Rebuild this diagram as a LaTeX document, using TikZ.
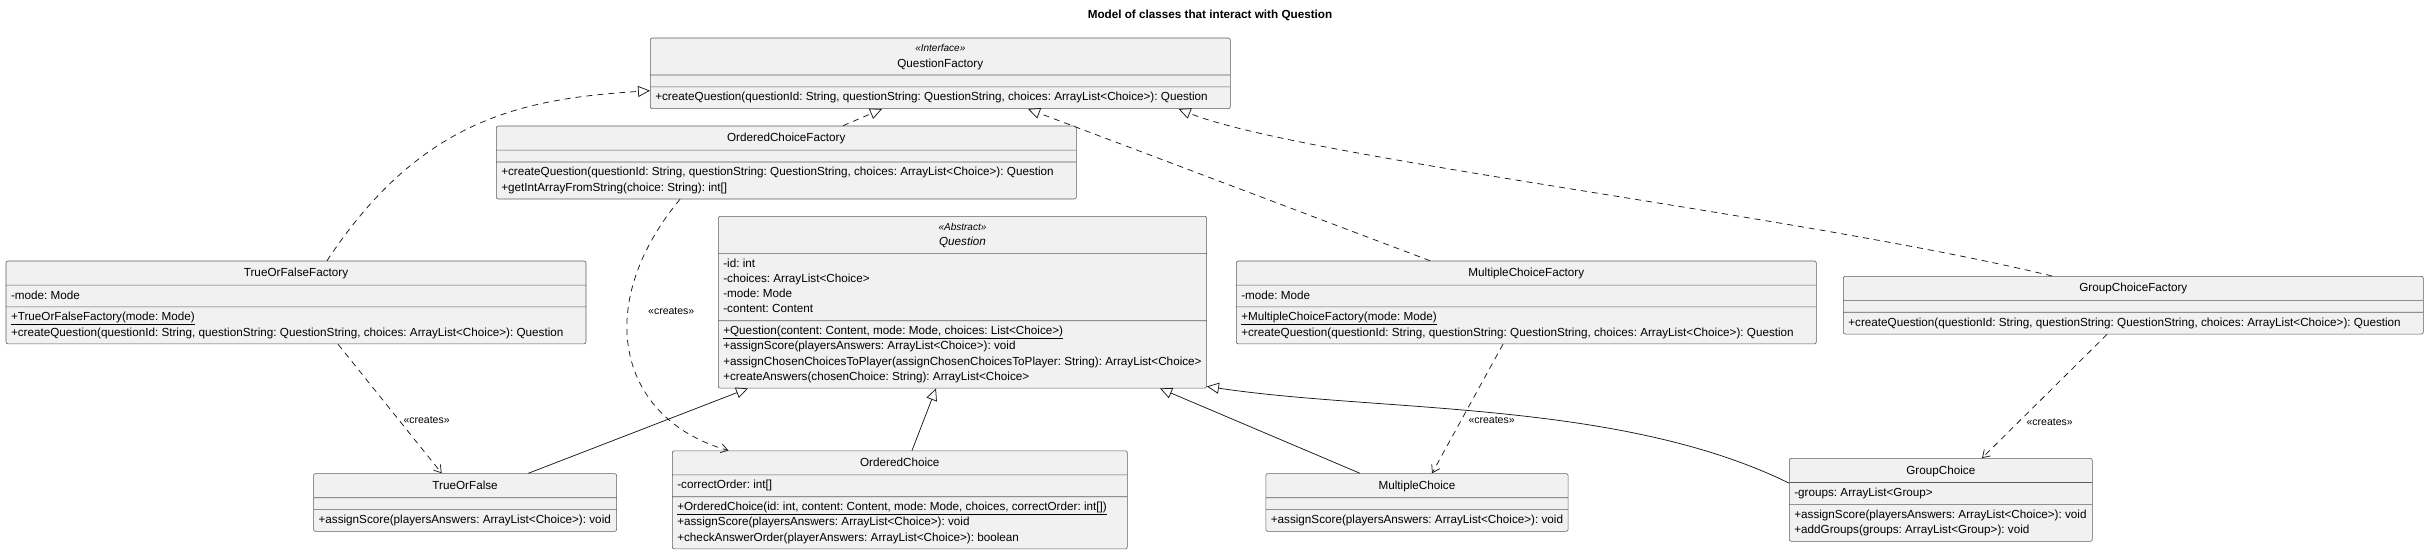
\documentclass[tikz,border=0pt]{standalone}
\usepackage{fontspec}
\setmainfont{Liberation Sans}
\usepackage{tikz}
\usetikzlibrary{arrows.meta}
\usetikzlibrary{shapes.multipart}
\usetikzlibrary{calc}
\definecolor{boxfill}{HTML}{F1F1F1}
\definecolor{umlline}{HTML}{181818}
\newcommand{\cname}[1]{\rule[-5.2pt]{0pt}{17.5pt}#1}
\frenchspacing
\tikzset{
  umlclass/.style={rectangle split, rectangle split parts=3,
    rectangle split ignore empty parts=false,
    rectangle split empty part height=0pt, rectangle split empty part depth=0pt,
    rectangle split part align={center,left,left},
    draw=umlline!70, line width=0.6pt, fill=boxfill, rounded corners=2pt,
    inner xsep=5pt, inner ysep=3pt, anchor=north west, align=left,
    font=\fontsize{11.7}{15.2}\selectfont},
  realizes/.style={draw=umlline, line width=0.75pt, dash pattern=on 6pt off 5pt,
    -{Triangle[open, length=12pt, width=11pt]}},
  inherits/.style={draw=umlline, line width=0.75pt,
    -{Triangle[open, length=12pt, width=11pt]}},
  createsarrow/.style={draw=umlline, line width=0.75pt, dash pattern=on 6pt off 5pt,
    -{Straight Barb[length=7pt, width=9pt]}},
  createslabel/.style={font=\fontsize{10.5}{12}\selectfont, anchor=west, inner sep=2pt}
}

\begin{document}
\begin{tikzpicture}[x=1pt, y=-1pt]
    \useasboundingbox (0,0) rectangle (2429,552);

    \node[font=\fontsize{11.7}{14}\selectfont\bfseries] (title) at (1210,15.7)
      {Model of classes that interact with Question};

    \node[umlclass, minimum width=580pt] (qf) at (650,37.7)
      {\begin{tabular}{@{}c@{}}{\fontsize{10}{15.2}\selectfont\itshape «Interface»}\\ QuestionFactory\end{tabular}
       \nodepart{two}
       \nodepart{three}\strut +createQuestion(questionId: String, questionString: QuestionString, choices: ArrayList<Choice>): Question};

    \node[umlclass, minimum width=580pt] (ocf) at (496,125.7)
      {\cname{OrderedChoiceFactory}
       \nodepart{two}
       \nodepart{three}\strut +createQuestion(questionId: String, questionString: QuestionString, choices: ArrayList<Choice>): Question\\
       \strut +getIntArrayFromString(choice: String): int[]};

    \node[umlclass, minimum width=488pt] (q) at (718,216)
      {\begin{tabular}{@{}c@{}}{\fontsize{10}{15.2}\selectfont\itshape «Abstract»}\\ \itshape Question\end{tabular}
       \nodepart{two}\strut -id: int\\ \strut -choices: ArrayList<Choice>\\ \strut -mode: Mode\\ \strut -content: Content
       \nodepart{three}\strut \underline{+Question(content: Content, mode: Mode, choices: List<Choice>)}\\
       \strut +assignScore(playersAnswers: ArrayList<Choice>): void\\
       \strut +assignChosenChoicesToPlayer(assignChosenChoicesToPlayer: String): ArrayList<Choice>\\
       \strut +createAnswers(chosenChoice: String): ArrayList<Choice>};

    \node[umlclass, minimum width=580pt] (toff) at (5.7,260.7)
      {\cname{TrueOrFalseFactory}
       \nodepart{two}\strut -mode: Mode
       \nodepart{three}\strut \underline{+TrueOrFalseFactory(mode: Mode)}\\
       \strut +createQuestion(questionId: String, questionString: QuestionString, choices: ArrayList<Choice>): Question};

    \node[umlclass, minimum width=580pt] (mcf) at (1236,260.7)
      {\cname{MultipleChoiceFactory}
       \nodepart{two}\strut -mode: Mode
       \nodepart{three}\strut \underline{+MultipleChoiceFactory(mode: Mode)}\\
       \strut +createQuestion(questionId: String, questionString: QuestionString, choices: ArrayList<Choice>): Question};

    \node[umlclass, minimum width=580pt] (gcf) at (1843,276)
      {\cname{GroupChoiceFactory}
       \nodepart{two}
       \nodepart{three}\strut +createQuestion(questionId: String, questionString: QuestionString, choices: ArrayList<Choice>): Question};

    \node[umlclass, minimum width=303pt] (tof) at (313.3,473.3)
      {\cname{TrueOrFalse}
       \nodepart{two}
       \nodepart{three}\strut +assignScore(playersAnswers: ArrayList<Choice>): void};

    \node[umlclass, minimum width=455pt] (oc) at (672,450.5)
      {\cname{OrderedChoice}
       \nodepart{two}\strut -correctOrder: int[]
       \nodepart{three}\strut \underline{+OrderedChoice(id: int, content: Content, mode: Mode, choices, correctOrder: int[])}\\
       \strut +assignScore(playersAnswers: ArrayList<Choice>): void\\
       \strut +checkAnswerOrder(playerAnswers: ArrayList<Choice>): boolean};

    \node[umlclass, minimum width=302pt] (mc) at (1265.5,473.3)
      {\cname{MultipleChoice}
       \nodepart{two}
       \nodepart{three}\strut +assignScore(playersAnswers: ArrayList<Choice>): void};

    \node[umlclass, minimum width=303pt] (gc) at (1789,458.1)
      {\cname{GroupChoice}
       \nodepart{two}\strut -groups: ArrayList<Group>
       \nodepart{three}\strut +assignScore(playersAnswers: ArrayList<Choice>): void\\
       \strut +addGroups(groups: ArrayList<Group>): void};

    \draw[realizes] ($(toff.north west)+(321.3,0)$) .. controls +(93,-140.7) and +(-130,8.2) .. ($(qf.north west)+(0,53)$);
    \draw[realizes] ($(ocf.north west)+(347,0)$) -- ($(qf.south west)+(232,0)$);
    \draw[realizes] ($(mcf.north west)+(194,0)$) -- ($(qf.south west)+(378,0)$);
    \draw[realizes] ($(gcf.north west)+(209,0)$) .. controls +(-252,-61) and +(122,48.7) .. ($(qf.south east)+(-52,0)$);

    \draw[createsarrow] ($(toff.south west)+(332.3,0)$) -- ($(tof.north west)+(128.4,0)$)
      node[createslabel, pos=0.59, xshift=2pt] {«creates»};
    \draw[createsarrow] ($(ocf.south west)+(184,0)$) .. controls +(-90,108.4) and +(-108.5,-30.5) .. ($(oc.north west)+(56.5,0)$)
      node[createslabel, pos=0.35, xshift=18pt] {«creates»};
    \draw[createsarrow] ($(mcf.south west)+(267,0)$) -- ($(mc.north west)+(166.5,0)$)
      node[createslabel, pos=0.59, xshift=5pt] {«creates»};
    \draw[createsarrow] ($(gcf.south west)+(264,0)$) -- ($(gc.north west)+(193,0)$)
      node[createslabel, pos=0.71, xshift=6pt] {«creates»};

    \draw[inherits] ($(tof.north west)+(215,0)$) -- ($(q.south west)+(30,0)$);
    \draw[inherits] ($(oc.north west)+(240,0)$) -- ($(q.south west)+(218,0)$);
    \draw[inherits] ($(mc.north west)+(94.5,0)$) -- ($(q.south west)+(442,0)$);
    \draw[inherits] ($(gc.north west)+(0,25)$) .. controls +(-169,-83) and +(173,26) .. ($(q.south east)+(0,-2)$);
\end{tikzpicture}
\end{document}
